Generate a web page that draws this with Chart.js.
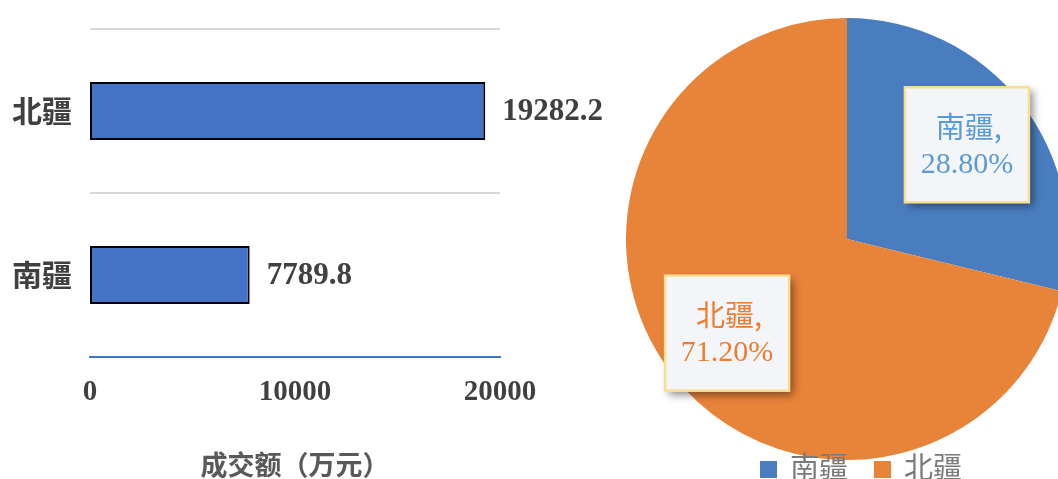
<!DOCTYPE html>
<html>
<head>
<meta charset="utf-8">
<script src="https://cdn.jsdelivr.net/npm/chart.js@4/dist/chart.umd.min.js"></script>
<style>
  html, body { margin:0; padding:0; width:1058px; height:479px; overflow:hidden; background:#fff; }
  #barBox { position:absolute; left:0; top:0; width:620px; height:479px; }
  #pieBox { position:absolute; left:626px; top:18px; width:442px; height:442px; }
  #legend { position:absolute; left:760px; top:445px; font-family:"Noto Sans CJK SC", sans-serif; font-size:29px; color:#7a7a7a; white-space:nowrap; line-height:40px; }
  #legend span.sw { display:inline-block; width:17px; height:17px; margin-right:13px; vertical-align:middle; position:relative; top:-1px; }
  #legend span.item { margin-right:26px; }
</style>
</head>
<body>
<div id="barBox"><canvas id="bar"></canvas></div>
<div id="pieBox"><canvas id="pie"></canvas></div>
<div id="legend"></div>
<script>
// ---- data ----
const categories = ['北疆', '南疆'];
const turnover = [19282.2, 7789.8];          // 成交额（万元）
const xTicks = [0, 10000, 20000];
const pieLabels = ['南疆', '北疆'];
const pieShares = [28.8, 71.2];              // %
const pieColors = ['#4a7dc0', '#e8833a'];
const pieTextColors = ['#5b9bd5', '#ed7d31'];

// ---- bar chart ----
const valueLabels = {
  id: 'valueLabels',
  afterDatasetsDraw(chart) {
    const ctx = chart.ctx;
    const meta = chart.getDatasetMeta(0);
    ctx.save();
    ctx.font = 'bold 31px "Liberation Serif", serif';
    ctx.fillStyle = '#404040';
    ctx.textAlign = 'left';
    ctx.textBaseline = 'middle';
    meta.data.forEach((bar, i) => {
      ctx.fillText(String(chart.data.datasets[0].data[i]), bar.x + 17, bar.y + 1);
    });
    ctx.restore();
  }
};

new Chart(document.getElementById('bar'), {
  type: 'bar',
  data: {
    labels: categories,
    datasets: [{
      data: turnover,
      backgroundColor: '#4472c4',
      borderColor: '#000000',
      borderWidth: 2,
      borderSkipped: false,
      barPercentage: 0.354,
      categoryPercentage: 1
    }]
  },
  options: {
    indexAxis: 'y',
    responsive: true,
    maintainAspectRatio: false,
    animation: false,
    layout: { padding: { top: 29, right: 120, left: 0, bottom: 0 } },
    plugins: { legend: { display: false }, tooltip: { enabled: false } },
    scales: {
      x: {
        min: xTicks[0],
        max: xTicks[xTicks.length - 1],
        afterBuildTicks(scale) { scale.ticks = xTicks.map(v => ({ value: v })); },
        afterFit(scale) { scale.height = 122; scale.paddingLeft = 0; scale.paddingRight = 0; },
        grid: { display: false, drawTicks: false },
        border: { display: true, color: '#4472c4', width: 2 },
        ticks: {
          padding: 18,
          color: '#404040',
          callback: (v) => String(v),
          font: { family: '"Liberation Serif", serif', size: 29, weight: 'bold' }
        },
        title: {
          display: true,
          text: '成交额（万元）',
          color: '#595959',
          padding: { top: 0, bottom: -2 },
          font: { family: '"Noto Sans CJK SC", sans-serif', size: 27, weight: 'bold' }
        }
      },
      y: {
        afterFit(scale) { scale.width = 90; scale.paddingTop = 0; scale.paddingBottom = 0; },
        grid: {
          drawTicks: false,
          lineWidth: 2,
          color: (c) => (c.index === 2 ? 'rgba(0,0,0,0)' : '#d9d9d9')
        },
        border: { display: false },
        ticks: {
          padding: 18,
          color: '#404040',
          font: { family: '"Noto Sans CJK SC", sans-serif', size: 30, weight: 'bold' }
        }
      }
    }
  },
  plugins: [valueLabels]
});

// ---- pie chart ----
const pieLabelBoxes = {
  id: 'pieLabelBoxes',
  afterDatasetsDraw(chart) {
    const ctx = chart.ctx;
    const meta = chart.getDatasetMeta(0);
    const w = 124, h = 115;
    meta.data.forEach((arc, i) => {
      const p = arc.getProps(['x', 'y', 'startAngle', 'endAngle', 'outerRadius'], true);
      const mid = (p.startAngle + p.endAngle) / 2;
      const r = p.outerRadius * 0.69;
      const cx = p.x + Math.cos(mid) * r;
      const cy = p.y + Math.sin(mid) * r;
      ctx.save();
      ctx.shadowColor = 'rgba(0,0,0,0.45)';
      ctx.shadowBlur = 8;
      ctx.shadowOffsetX = 4;
      ctx.shadowOffsetY = 4;
      ctx.fillStyle = '#f3f5f9';
      ctx.fillRect(cx - w / 2, cy - h / 2, w, h);
      ctx.restore();
      ctx.save();
      ctx.strokeStyle = '#f7df91';
      ctx.lineWidth = 2.5;
      ctx.strokeRect(cx - w / 2, cy - h / 2, w, h);
      ctx.fillStyle = pieTextColors[i];
      ctx.textAlign = 'center';
      ctx.textBaseline = 'middle';
      ctx.font = '29px "Noto Sans CJK SC", sans-serif';
      ctx.fillText(chart.data.labels[i] + ',', cx + 2, cy - 18);
      ctx.font = '30px "Liberation Serif", serif';
      ctx.fillText(chart.data.datasets[0].data[i].toFixed(2) + '%', cx, cy + 20);
      ctx.restore();
    });
  }
};

new Chart(document.getElementById('pie'), {
  type: 'pie',
  data: {
    labels: pieLabels,
    datasets: [{ data: pieShares, backgroundColor: pieColors, borderWidth: 0 }]
  },
  options: {
    responsive: true,
    maintainAspectRatio: false,
    animation: false,
    layout: { padding: 0 },
    plugins: { legend: { display: false }, tooltip: { enabled: false } }
  },
  plugins: [pieLabelBoxes]
});

// ---- legend (HTML) ----
const legend = document.getElementById('legend');
pieLabels.forEach((lab, i) => {
  const item = document.createElement('span');
  item.className = 'item';
  const sw = document.createElement('span');
  sw.className = 'sw';
  sw.style.background = pieColors[i];
  item.appendChild(sw);
  item.appendChild(document.createTextNode(lab));
  legend.appendChild(item);
});
</script>
</body>
</html>
